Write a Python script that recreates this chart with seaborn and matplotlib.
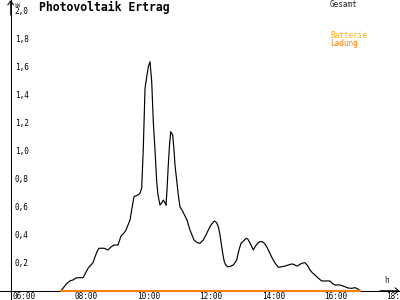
import matplotlib
matplotlib.use("Agg")
import matplotlib.pyplot as plt
import matplotlib.transforms as mtransforms
import seaborn as sns

# ---- data ----
hours = [7.455, 7.552, 7.648, 7.744, 7.841, 7.937, 8.033, 8.162, 8.226, 8.323,
         8.419, 8.483, 8.547, 8.612, 8.676, 8.837, 8.965, 9.061, 9.158, 9.286,
         9.383, 9.479, 9.543, 9.607, 9.672, 9.736, 9.800, 9.929, 9.993, 10.048,
         10.099, 10.154, 10.218, 10.266, 10.314, 10.369, 10.420, 10.475, 10.529, 10.571,
         10.635, 10.690, 10.741, 10.796, 10.828, 10.860, 10.902, 10.941, 10.979, 11.043,
         11.085, 11.117, 11.223, 11.278, 11.342, 11.438, 11.503, 11.599, 11.728, 11.824,
         11.920, 12.026, 12.113, 12.187, 12.274, 12.380, 12.450, 12.508, 12.563, 12.617,
         12.659, 12.701, 12.756, 12.810, 12.884, 12.990, 13.099, 13.173, 13.237, 13.334,
         13.398, 13.453, 13.527, 13.633, 13.703, 13.774, 13.848, 13.922, 13.992, 14.063,
         14.153, 14.243, 14.330, 14.436, 14.545, 14.651, 14.757, 14.866, 14.940, 15.027,
         15.101, 15.187, 15.293, 15.374, 15.454, 15.534, 15.615, 15.711, 15.830, 16.092,
         16.172, 16.253, 16.413, 16.574, 16.670, 16.793, 16.899, 16.996, 17.060]
pv_kw = [0.000, 0.027, 0.053, 0.070, 0.077, 0.091, 0.093, 0.093, 0.119, 0.160,
         0.184, 0.200, 0.241, 0.278, 0.303, 0.303, 0.291, 0.312, 0.326, 0.326,
         0.390, 0.412, 0.433, 0.469, 0.504, 0.590, 0.671, 0.683, 0.695, 0.733,
         1.018, 1.443, 1.538, 1.603, 1.633, 1.491, 1.205, 1.004, 0.778, 0.683,
         0.611, 0.626, 0.647, 0.626, 0.611, 0.718, 0.897, 1.039, 1.134, 1.111,
         1.004, 0.897, 0.683, 0.597, 0.576, 0.533, 0.504, 0.433, 0.362, 0.344,
         0.338, 0.362, 0.398, 0.433, 0.469, 0.497, 0.487, 0.457, 0.398, 0.314,
         0.255, 0.207, 0.180, 0.171, 0.173, 0.184, 0.219, 0.291, 0.338, 0.358,
         0.373, 0.369, 0.340, 0.291, 0.319, 0.338, 0.350, 0.350, 0.337, 0.314,
         0.273, 0.231, 0.198, 0.167, 0.171, 0.176, 0.184, 0.191, 0.187, 0.176,
         0.184, 0.196, 0.200, 0.180, 0.148, 0.127, 0.112, 0.091, 0.070, 0.070,
         0.052, 0.041, 0.041, 0.029, 0.020, 0.017, 0.022, 0.012, 0.000]
ladung_hours = [7.455, 17.060]
ladung_kw = [0.0, 0.0]

x_ticks = [6, 8, 10, 12, 14, 16, 18]
x_tick_labels = ["06:00", "08:00", "10:00", "12:00", "14:00", "16:00", "18:00"]
y_ticks = [0.2, 0.4, 0.6, 0.8, 1.0, 1.2, 1.4, 1.6, 1.8, 2.0]
y_tick_labels = ["0,2", "0,4", "0,6", "0,8", "1,0", "1,2", "1,4", "1,6", "1,8", "2,0"]

ORANGE = "#ff8000"
GOLD = "#ffb000"

sns.set_style("white")
plt.rcParams["font.family"] = ["DejaVu Sans Mono", "DejaVu Sans"]

fig = plt.figure(figsize=(4, 3), dpi=100)
ax = fig.add_axes([0, 0, 1, 1])
ax.set_facecolor("white")

sns.lineplot(x=hours, y=pv_kw, ax=ax, color="black", lw=0.85, estimator=None)
sns.lineplot(x=ladung_hours, y=ladung_kw, ax=ax, color=ORANGE, lw=1.5, estimator=None)

ax.set_xlim(5.4957, 18.3449)
ax.set_ylim(-0.066, 2.0731)

for s in ("top", "right"):
    ax.spines[s].set_visible(False)
ax.spines["left"].set_position(("data", 5.839))
ax.spines["bottom"].set_position(("data", 0))
for s in ("left", "bottom"):
    ax.spines[s].set_color("black")
    ax.spines[s].set_linewidth(0.75)
    ax.spines[s].set_zorder(1)

ax.set_xticks(x_ticks, x_tick_labels)
ax.set_yticks(y_ticks, y_tick_labels)
ax.tick_params(axis="x", direction="inout", length=4.3, width=0.75, color="black",
               labelsize=5.6, labelcolor="black", pad=-1.1)
ax.tick_params(axis="y", direction="inout", length=3.6, width=0.75, color="black",
               labelsize=5.6, labelcolor="black", pad=-14.6)
shift = mtransforms.ScaledTranslation(-3 / 100, 0, fig.dpi_scale_trans)
for lab in ax.get_xticklabels():
    lab.set_ha("left")
    lab.set_transform(lab.get_transform() + shift)
ax.set_xlabel("")
ax.set_ylabel("")
ax.grid(False)

arrow = dict(arrowstyle="->,head_length=0.45,head_width=0.35", lw=0.75, color="black",
             shrinkA=0, shrinkB=0, mutation_scale=6)
ax.annotate("", xy=(5.839, 0.999), xytext=(5.839, 0.95),
            xycoords=("data", "axes fraction"), textcoords=("data", "axes fraction"),
            arrowprops=arrow)
ax.annotate("", xy=(0.999, 0), xytext=(0.95, 0),
            xycoords=("axes fraction", "data"), textcoords=("axes fraction", "data"),
            arrowprops=arrow)

fig.text(39.3 / 400, 1 - 11 / 300, "Photovoltaik Ertrag", fontsize=8.3,
         fontweight="bold", ha="left", va="baseline", color="black")
fig.text(14.5 / 400, 1 - 6.7 / 300, "kW", fontsize=3.8, ha="left", va="baseline")
fig.text(330 / 400, 1 - 7.3 / 300, "Gesamt", fontsize=5.6, ha="left", va="baseline")
fig.text(330 / 400, 1 - 38.5 / 300, "Batterie", fontsize=5.6, ha="left",
         va="baseline", color=GOLD)
fig.text(330 / 400, 1 - 46 / 300, "Ladung", fontsize=5.6, ha="left",
         va="baseline", color=ORANGE)
fig.text(384.5 / 400, 1 - 283 / 300, "h", fontsize=5.6, ha="left", va="baseline")

fig.savefig("out.png", dpi=100, facecolor="white")
